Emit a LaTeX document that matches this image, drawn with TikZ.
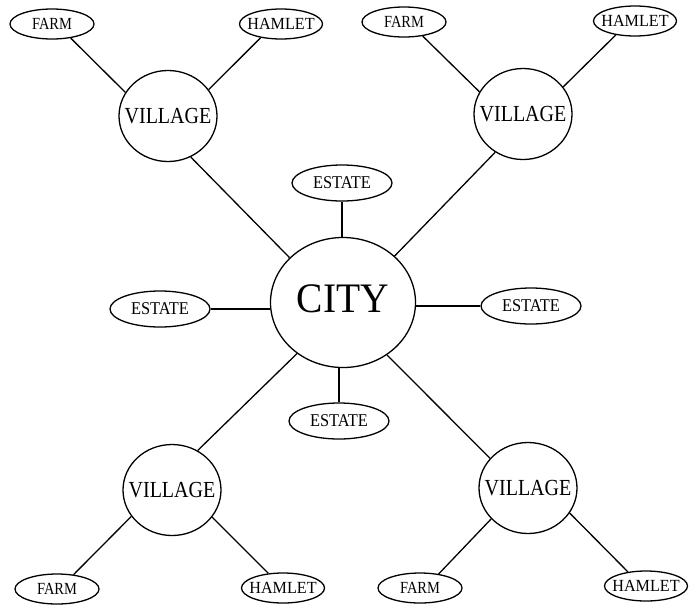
\documentclass[tikz,border=0pt]{standalone}
\usepackage{fontspec}
\usepackage{graphicx}
\setmainfont{Liberation Serif}
\usetikzlibrary{shapes.geometric}
\newcommand{\lbl}[2]{\makebox[0pt]{\scalebox{#1}[1]{#2}}}
\begin{document}
\begin{tikzpicture}[x=1pt,y=-1pt,
  bub/.style={draw=black, line width=1.3pt, ellipse, inner sep=0pt, text=black},
  farmst/.style={bub, minimum width=84pt, minimum height=30pt, font=\fontsize{17}{17}\selectfont},
  hamst/.style={bub, minimum width=83pt, minimum height=30pt, font=\fontsize{17}{17}\selectfont},
  estst/.style={bub, minimum width=100pt, minimum height=36pt, font=\fontsize{18}{18}\selectfont},
  villst/.style={bub, minimum width=98pt, minimum height=91pt, font=\fontsize{23}{23}\selectfont},
  cityst/.style={bub, minimum width=145pt, minimum height=130pt, font=\fontsize{42}{42}\selectfont},
  link/.style={draw=black, line width=1.3pt}
]
\fill[white] (0,0) rectangle (695,606);
\useasboundingbox (0,0) rectangle (695,606);

% city
\node[cityst] (city) at (343,302.5) {\raisebox{3.5pt}[\height][\depth]{\lbl{0.94}{CITY}}};

% estates
\node[estst] (e1) at (342,183) {\lbl{0.91}{ESTATE}};
\node[estst] (e2) at (160,309) {\lbl{0.91}{ESTATE}};
\node[estst] (e3) at (531,306) {\lbl{0.91}{ESTATE}};
\node[estst] (e4) at (339,421) {\lbl{0.91}{ESTATE}};

% villages
\node[villst] (v1) at (168,116) {\lbl{0.87}{VILLAGE}};
\node[villst] (v2) at (523,114) {\lbl{0.87}{VILLAGE}};
\node[villst] (v3) at (172,490) {\lbl{0.87}{VILLAGE}};
\node[villst] (v4) at (528,488) {\lbl{0.87}{VILLAGE}};

% farms and hamlets
\node[farmst] (f1) at (52,24) {\lbl{0.85}{FARM}};
\node[hamst] (h1) at (281,24) {\lbl{0.95}{HAMLET}};
\node[farmst] (f2) at (404,22) {\lbl{0.85}{FARM}};
\node[hamst] (h2) at (635,21) {\lbl{0.95}{HAMLET}};
\node[farmst] (f3) at (57,589) {\lbl{0.85}{FARM}};
\node[hamst] (h3) at (283,588) {\lbl{0.95}{HAMLET}};
\node[farmst] (f4) at (420,588) {\lbl{0.85}{FARM}};
\node[hamst] (h4) at (646,586) {\lbl{0.95}{HAMLET}};

% village links
\draw[link] (f1.-37) -- (v1.151);
\draw[link] (h1.214) -- (v1.33);
\draw[link] (v1.-61) -- (city.140);

\draw[link] (f2.-37) -- (v2.153);
\draw[link] (h2.216) -- (v2.34);
\draw[link] (v2.234) -- (city.42);

\draw[link] (f3.41) -- (v3.213);
\draw[link] (h3.135) -- (v3.-34);
\draw[link] (v3.57) -- (city.228);

\draw[link] (f4.37) -- (v4.220);
\draw[link] (h4.142) -- (v4.-31);
\draw[link] (v4.142) -- (city.-50);

% estate links
\draw[link] (e1.south) -- (e1.south |- city.north);
\draw[link] (e2.east) -- (city.west |- e2.east);
\draw[link] (city.east |- e3.west) -- (e3.west);
\draw[link] (e4.north) -- (e4.north |- city.south);
\end{tikzpicture}
\end{document}
